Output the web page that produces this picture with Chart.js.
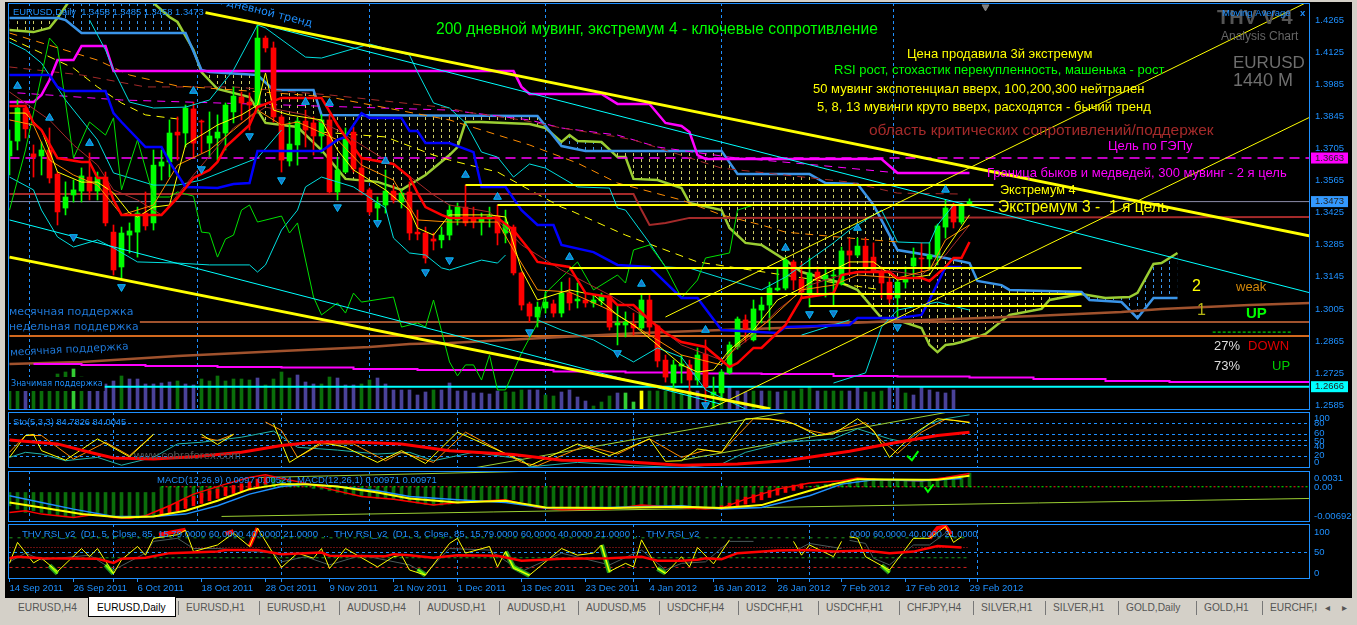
<!DOCTYPE html>
<html>
<head>
<meta charset="utf-8">
<title>EURUSD,Daily</title>
<script src="https://cdn.jsdelivr.net/npm/chart.js@4/dist/chart.umd.js"></script>
<style>
  html, body { margin: 0; padding: 0; width: 1357px; height: 625px; overflow: hidden; background: #d4d0c8; }
  #win { position: absolute; left: 5px; top: 2px; width: 1347px; height: 596px; background: #000; }
  canvas.pane { position: absolute; left: 0; }
  #tabs span { position: absolute; top: 602px; font: 10.2px "Liberation Sans", sans-serif; color: #555; white-space: nowrap; }
  #tabs i { position: absolute; top: 601px; width: 1px; height: 14px; background: #777; }
  #tabs b { position: absolute; left: 88px; top: 597px; width: 88px; height: 20px; background: #fff; border: 1px solid #000; border-top: 0; box-sizing: border-box; }
</style>
</head>
<body>
<div id="win"></div>
<div id="tabs"></div>
<script>
// === Candles (bars 0..120, one per trading day) ===
const opens = [1.3672,1.3737,1.3881,1.3681,1.3672,1.3698,1.3593,1.3445,1.3502,1.3519,1.3580,1.3519,1.3580,1.3340,1.3188,1.3327,1.3340,1.3423,1.3380,1.3628,1.3646,1.3776,1.3772,1.3877,1.3824,1.3728,1.3750,1.3772,1.3864,1.3929,1.3907,1.3894,1.4186,1.4143,1.3842,1.3650,1.3720,1.3824,1.3816,1.3759,1.3829,1.3515,1.3602,1.3776,1.3620,1.3524,1.3445,1.3458,1.3519,1.3471,1.3515,1.3340,1.3336,1.3310,1.3306,1.3327,1.3393,1.3449,1.3401,1.3384,1.3397,1.3410,1.3336,1.3362,1.3162,1.3027,1.2970,1.3009,1.3027,1.2987,1.3074,1.3040,1.3044,1.3031,1.3040,1.3061,1.2935,1.2935,1.2939,1.2922,1.3044,1.2931,1.2782,1.2682,1.2756,1.2761,1.2695,1.2808,1.2630,1.2639,1.2726,1.2839,1.2957,1.2870,1.3000,1.3022,1.3088,1.3096,1.3210,1.3135,1.3074,1.3166,1.3135,1.3149,1.3114,1.3258,1.3240,1.3279,1.3231,1.3166,1.3122,1.3053,1.3122,1.3192,1.3227,1.3223,1.3240,1.3362,1.3458,1.3384,1.3458];
const highs = [1.3785,1.3916,1.3894,1.3720,1.3733,1.3794,1.3602,1.3559,1.3567,1.3620,1.3685,1.3602,1.3602,1.3371,1.3362,1.3380,1.3449,1.3515,1.3698,1.3698,1.3829,1.3842,1.3894,1.3907,1.3829,1.3864,1.3851,1.3903,1.3973,1.3951,1.3947,1.4243,1.4195,1.4169,1.3851,1.3820,1.3838,1.3872,1.3842,1.3851,1.3851,1.3667,1.3794,1.3798,1.3667,1.3532,1.3493,1.3611,1.3545,1.3524,1.3559,1.3436,1.3362,1.3336,1.3362,1.3458,1.3467,1.3545,1.3449,1.3423,1.3449,1.3458,1.3436,1.3371,1.3166,1.3035,1.3035,1.3079,1.3044,1.3122,1.3140,1.3118,1.3074,1.3066,1.3074,1.3066,1.3022,1.2992,1.2987,1.3066,1.3066,1.2935,1.2804,1.2782,1.2804,1.2782,1.2835,1.2870,1.2708,1.2739,1.2861,1.2970,1.2979,1.3044,1.3057,1.3122,1.3184,1.3231,1.3218,1.3205,1.3227,1.3188,1.3188,1.3184,1.3275,1.3314,1.3314,1.3314,1.3293,1.3188,1.3144,1.3140,1.3188,1.3271,1.3293,1.3293,1.3375,1.3480,1.3467,1.3467,1.3485];
const lows = [1.3589,1.3698,1.3750,1.3580,1.3589,1.3554,1.3371,1.3415,1.3471,1.3471,1.3480,1.3480,1.3367,1.3153,1.3140,1.3249,1.3231,1.3349,1.3349,1.3567,1.3580,1.3654,1.3711,1.3667,1.3685,1.3667,1.3654,1.3698,1.3816,1.3829,1.3785,1.3859,1.4125,1.3820,1.3602,1.3628,1.3632,1.3711,1.3676,1.3685,1.3510,1.3480,1.3598,1.3602,1.3502,1.3415,1.3384,1.3423,1.3467,1.3445,1.3306,1.3306,1.3205,1.3262,1.3271,1.3306,1.3371,1.3367,1.3358,1.3327,1.3362,1.3284,1.3293,1.3153,1.3000,1.2948,1.2926,1.2987,1.2970,1.2970,1.3000,1.3009,1.3013,1.3013,1.3022,1.2913,1.2848,1.2883,1.2891,1.2913,1.2891,1.2752,1.2686,1.2660,1.2682,1.2643,1.2673,1.2573,1.2577,1.2621,1.2721,1.2830,1.2861,1.2865,1.2944,1.2913,1.3083,1.3088,1.3088,1.3053,1.3013,1.3074,1.3057,1.3018,1.3109,1.3162,1.3231,1.3175,1.3162,1.3053,1.3031,1.2970,1.3096,1.3144,1.3166,1.3175,1.3197,1.3314,1.3358,1.3375,1.3458];
const closes = [1.3737,1.3881,1.3790,1.3667,1.3698,1.3576,1.3428,1.3493,1.3524,1.3585,1.3519,1.3580,1.3380,1.3175,1.3336,1.3345,1.3423,1.3367,1.3632,1.3646,1.3772,1.3763,1.3881,1.3728,1.3820,1.3759,1.3776,1.3894,1.3933,1.3903,1.3894,1.4186,1.4143,1.3842,1.3654,1.3724,1.3824,1.3785,1.3759,1.3829,1.3515,1.3611,1.3746,1.3615,1.3515,1.3428,1.3467,1.3519,1.3480,1.3510,1.3336,1.3332,1.3227,1.3301,1.3327,1.3436,1.3449,1.3380,1.3384,1.3401,1.3410,1.3336,1.3384,1.3162,1.3022,1.2974,1.3013,1.3035,1.2987,1.3074,1.3031,1.3048,1.3031,1.3044,1.3061,1.2926,1.2944,1.2948,1.2922,1.3044,1.2926,1.2778,1.2708,1.2761,1.2765,1.2695,1.2804,1.2665,1.2643,1.2730,1.2848,1.2961,1.2918,1.3005,1.3022,1.3096,1.3096,1.3218,1.3131,1.3079,1.3162,1.3135,1.3153,1.3153,1.3258,1.3240,1.3279,1.3188,1.3166,1.3118,1.3048,1.3122,1.3140,1.3227,1.3223,1.3240,1.3367,1.3445,1.3384,1.3458,1.3473];

// === Volume (tick count in the lower part of the price pane) ===
const volumes = [26,25,27,26,26,27,36,38,41,33,26,26,26,29,34,31,31,26,26,27,28,29,26,25,31,29,34,29,31,31,30,32,25,31,38,32,35,28,26,26,33,32,25,25,26,30,32,26,20,20,20,15,18,20,20,27,19,19,17,17,16,19,18,18,20,20,20,15,14,18,20,13,9,4,8,14,17,17,8,19,19,19,19,19,19,19,19,7,9,19,23,19,18,19,19,19,18,19,19,21,23,19,19,19,19,19,23,18,18,19,23,23,17,15,23,20,18,17,20,20,3];
const volumeState = "ggpgggggbgppppgpppppp gppgggggggpggggpppggpppggpppppppgppppppppgggppggppppgggpbbygggggbpgggpppgpgpggggpgggppgggppgpppppp".replace(/ /g, "");

// === Ichimoku and moving averages, [bar, price] ===
const spanB = [[0,1.4274],[6,1.4274],[7,1.4265],[9,1.4208],[22,1.4208],[24,1.4047],[25,1.4038],[31,1.4025],[33,1.3960],[38,1.3960],[39,1.3851],[66,1.3846],[69,1.3715],[72,1.3694],[89,1.3694],[91,1.3593],[100,1.3593],[102,1.3554],[106,1.3550],[108,1.3458],[111,1.3262],[117,1.3227],[120,1.3205],[121,1.3127],[124,1.3109],[125,1.3088],[134,1.3079],[135,1.3044],[139,1.3035],[141,1.2965],[143,1.3053],[146,1.3053]];
const spanA = [[0,1.4221],[3,1.4212],[5,1.4230],[6,1.4274],[8,1.4374],[16,1.4374],[18,1.4339],[20,1.4278],[21,1.4256],[23,1.4134],[24,1.4038],[26,1.3964],[30,1.3929],[32,1.3816],[36,1.3798],[39,1.3698],[42,1.3572],[46,1.3559],[49,1.3524],[52,1.3589],[55,1.3676],[56,1.3711],[57,1.3820],[59,1.3820],[65,1.3811],[67,1.3794],[69,1.3733],[70,1.3763],[71,1.3737],[74,1.3733],[76,1.3667],[77,1.3667],[78,1.3572],[81,1.3567],[84,1.3532],[85,1.3467],[89,1.3436],[90,1.3358],[92,1.3293],[94,1.3284],[97,1.3218],[99,1.3166],[104,1.3118],[106,1.3088],[109,1.2965],[111,1.2957],[114,1.2922],[115,1.2848],[116,1.2817],[117,1.2848],[118,1.2852],[119,1.2861],[121,1.2883],[122,1.2896],[125,1.2979],[129,1.3005],[130,1.3044],[134,1.3070],[137,1.3053],[140,1.3057],[141,1.3075],[143,1.3201],[144,1.3205],[146,1.3249]];
const kijun = [[0,1.4025],[5,1.4025],[6,1.3973],[7,1.3955],[12,1.3955],[13,1.3859],[14,1.3820],[17,1.3711],[19,1.3711],[20,1.3646],[22,1.3537],[26,1.3532],[28,1.3550],[30,1.3554],[31,1.3694],[39,1.3694],[41,1.3742],[42,1.3755],[44,1.3859],[45,1.3838],[49,1.3838],[50,1.3781],[51,1.3781],[52,1.3728],[55,1.3728],[58,1.3689],[59,1.3537],[62,1.3537],[64,1.3436],[66,1.3371],[68,1.3371],[69,1.3284],[73,1.3253],[76,1.3197],[80,1.3188],[84,1.3053],[86,1.3053],[89,1.2913],[96,1.2900],[97,1.2926],[105,1.2935],[106,1.2965],[111,1.2965],[114,1.2979],[115,1.3044],[117,1.3188],[119,1.3188]];
const tenkan = [[0,1.3890],[2,1.3890],[3,1.3816],[4,1.3785],[6,1.3663],[9,1.3646],[10,1.3646],[11,1.3576],[12,1.3576],[13,1.3480],[14,1.3415],[19,1.3415],[21,1.3489],[23,1.3576],[25,1.3611],[26,1.3646],[27,1.3711],[30,1.3807],[31,1.3885],[34,1.3925],[39,1.3925],[41,1.3807],[42,1.3755],[43,1.3711],[44,1.3663],[48,1.3637],[50,1.3580],[51,1.3511],[52,1.3449],[54,1.3415],[55,1.3402],[61,1.3402],[63,1.3349],[65,1.3262],[66,1.3210],[70,1.3188],[72,1.3074],[75,1.3057],[76,1.3022],[78,1.3022],[80,1.2957],[82,1.2900],[84,1.2861],[87,1.2839],[90,1.2752],[91,1.2769],[93,1.2835],[94,1.2835],[97,1.2935],[99,1.3053],[103,1.3074],[104,1.3153],[106,1.3166],[110,1.3166],[111,1.3140],[114,1.3140],[115,1.3127],[117,1.3188],[118,1.3227],[119,1.3227],[120,1.3297]];
const maHigh = [[0,1.3907],[3,1.3907],[4,1.3938],[5,1.4003],[6,1.4090],[8,1.4090],[9,1.4151],[12,1.4151],[13,1.4042],[63,1.4042],[64,1.3973],[65,1.3942],[74,1.3942],[76,1.3899],[80,1.3899],[82,1.3816],[84,1.3803],[85,1.3776],[86,1.3676],[87,1.3659],[109,1.3659],[111,1.3598],[120,1.3598]];
const ma200 = [[0,1.3506],[78,1.3506],[79,1.3436],[80,1.3371],[82,1.3380],[85,1.3402],[162.6,1.3406]];
const ma300 = [[0,1.2765],[9,1.2774],[21,1.2800],[34,1.2822],[45,1.2839],[50,1.2852],[55,1.2856],[69,1.2883],[79,1.2900],[89,1.2913],[100,1.2926],[105,1.2944],[111,1.2952],[118,1.2961],[128,1.2974],[139,1.2992],[144,1.3005],[155,1.3022],[162.6,1.3031]];
const maLow = [[3,1.2765],[9,1.2761],[17,1.2756],[26,1.2752],[34,1.2750],[43,1.2743],[51,1.2739],[68,1.2732],[77,1.2728],[85,1.2723],[94,1.2721],[103,1.2713],[111,1.2710],[120,1.2706],[128,1.2700],[137,1.2691],[145,1.2687],[162.6,1.2687]];
const bandUpper = [[10,1.4265],[12,1.4134],[13,1.4047],[15,1.3907],[18,1.3881],[22,1.3885],[25,1.3916],[28,1.4047],[31,1.4243],[32,1.4230],[37,1.4103],[39,1.4099],[45,1.4160],[50,1.4112],[51,1.4038],[53,1.3903],[55,1.3881],[57,1.3816],[59,1.3689],[61,1.3667],[63,1.3580],[65,1.3637],[67,1.3619],[71,1.3537],[75,1.3532],[76,1.3445],[77,1.3436],[80,1.3293],[82,1.3188],[85,1.3183],[89,1.3140],[94,1.3088],[97,1.3144],[103,1.3293],[105,1.3349],[109,1.3436],[111,1.3297],[114,1.3293],[115,1.3293],[116,1.3371],[118,1.3458]];
const bandMiddle = [[0,1.4169],[2,1.4134],[4,1.4077],[7,1.3916],[11,1.3742],[13,1.3598],[18,1.3545],[21,1.3545],[24,1.3567],[31,1.3663],[34,1.3785]];
const bandLower = [[0,1.3580],[3,1.3524],[4,1.3436],[6,1.3319],[8,1.3275],[11,1.3306],[13,1.3271],[16,1.3210],[21,1.3205],[25,1.3197],[30,1.3197],[31,1.3166],[32,1.3197],[34,1.3349],[36,1.3436],[37,1.3537],[39,1.3580],[43,1.3537],[47,1.3445],[48,1.3314],[50,1.3249],[52,1.3240],[54,1.3184],[55,1.3175],[59,1.3218],[61,1.3205],[62,1.3240],[63,null],[66,1.2957],[69,1.2913],[73,1.2870],[78,1.2774],[81,1.2835],[84,1.2795],[87,1.2652],[92,1.2569],[93,null],[99,1.2891],[103,1.2935],[105,1.2957],[106,null],[103,1.2682],[107,1.2726],[109,1.2926],[111,1.3000],[116,1.3035],[120,1.3000]];
const oscGreen = [[0,1.3436],[2,1.3698],[5,1.4186],[6,1.4147],[8,1.3663],[10,1.3820],[12,1.3763],[13,1.3838],[14,1.3524],[16,1.3742],[18,1.3493],[20,1.3493],[21,1.3515],[23,1.3497],[24,1.3340],[25,1.3336],[26,1.3231],[27,1.3310],[28,1.3327],[29,1.3436],[30,1.3458],[31,1.3384],[34,1.3410],[35,1.3336],[36,1.3380],[38,1.3057],[39,1.2979],[41,1.3031],[42,1.2987],[43,1.3074],[44,1.3035],[48,1.3057],[49,1.2926],[51,1.2944],[52,1.2926],[53,1.3044],[55,1.2774],[56,1.2713],[57,1.2761],[58,1.2761],[59,1.2695],[60,1.2804],[61,1.2652],[62,1.2652],[64,1.2813],[66,1.2944],[67,1.3074],[71,1.3210],[73,1.3088],[76,1.3153],[77,1.3118],[78,1.3262],[80,1.3284],[82,1.3188],[84,1.3053],[86,1.3131],[87,1.3227],[90,1.3249],[91,1.3436],[93,1.3458]];
const ema5 = [[0,1.3859],[2,1.3859],[4,1.3785],[6,1.3602],[9,1.3558],[11,1.3558],[13,1.3511],[15,1.3423],[16,1.3406],[18,1.3449],[20,1.3458],[22,1.3720],[26,1.3807],[29,1.3851],[31,1.3894],[32,1.4034],[33,1.3872],[35,1.3851],[39,1.3829],[41,1.3698],[43,1.3611],[47,1.3524],[50,1.3436],[51,1.3358],[53,1.3327],[55,1.3415],[60,1.3415],[62,1.3406],[64,1.3175],[66,1.3044],[70,1.3088],[73,1.3066],[76,1.2979],[78,1.2935],[81,1.2848],[84,1.2761],[86,1.2730],[88,1.2739],[90,1.2826],[93,1.2913],[96,1.3044],[99,1.3096],[101,1.3140],[105,1.3210],[108,1.3210],[111,1.3131],[115,1.3153],[117,1.3262],[120,1.3415]];
const ema8 = [[0,1.3829],[3,1.3807],[5,1.3654],[8,1.3589],[11,1.3545],[14,1.3415],[18,1.3458],[21,1.3632],[25,1.3698],[28,1.3785],[31,1.3872],[34,1.3807],[36,1.3820],[41,1.3742],[44,1.3632],[48,1.3567],[51,1.3393],[55,1.3384],[61,1.3384],[63,1.3262],[66,1.3088],[70,1.3079],[75,1.3000],[79,1.2913],[84,1.2804],[89,1.2761],[91,1.2848],[95,1.2957],[99,1.3088],[103,1.3109],[106,1.3153],[111,1.3140],[115,1.3175],[117,1.3306],[120,1.3371]];
const ema13 = [[0,1.3951],[5,1.3829],[8,1.3720],[11,1.3632],[13,1.3524],[16,1.3480],[19,1.3415],[23,1.3589],[28,1.3794],[32,1.3885],[37,1.3851],[41,1.3785],[45,1.3698],[49,1.3611],[53,1.3502],[55,1.3458],[60,1.3428],[64,1.3284],[69,1.3175],[75,1.3066],[80,1.2957],[84,1.2848],[89,1.2782],[93,1.2891],[96,1.3000],[100,1.3109],[104,1.3153],[109,1.3175],[114,1.3153],[117,1.3240],[120,1.3371]];
const dashOrange = [[0,1.4208],[11,1.4090],[15,1.4025],[21,1.3977],[28,1.3960],[40,1.3929],[55,1.3829],[65,1.3720],[71,1.3641],[76,1.3554],[84,1.3480],[89,1.3415],[94,1.3371],[97,1.3340],[101,1.3327],[105,1.3314],[111,1.3297]];
const dashBrown = [[0,1.4060],[9,1.4025],[17,1.3973],[28,1.3973],[40,1.3938],[55,1.3881],[57,1.3864],[64,1.3829],[69,1.3794],[76,1.3755],[78,1.3742],[89,1.3619],[105,1.3558],[111,1.3510],[119,1.3506]];
const dashMagenta = [[1,1.3947],[14,1.3916],[55,1.3872],[65,1.3829],[69,1.3794],[76,1.3763],[81,1.3711],[90,1.3667],[101,1.3632],[111,1.3598]];
const dashYellow = [[0,1.4186],[8,1.4055],[11,1.3973],[14,1.3903],[17,1.3851],[22,1.3829],[23,null],[39,1.3776],[47,1.3755],[53,1.3676],[55,1.3654],[61,1.3602],[65,1.3524],[69,1.3449],[70,1.3436],[77,1.3327],[86,1.3210],[109,1.3088]];

// === Trend lines and levels ===
const trendTop = [[24.5,1.4297],[162.6,1.3323]];
const trendBottom = [[0,1.3231],[95.1,1.2569]];
const channelTop = [[32.25,1.4239],[162.6,1.3075]];
const channelBottom = [[0,1.3393],[88.9,1.2590]];
const riseOne = [[82,1.2970],[162,1.4339]];
const riseTwo = [[87.6,1.2569],[162.6,1.3842]];
const extremeLevels = [[57,123,1.3545],[61,123,1.3458],[70,134,1.3184],[75,134,1.3070],[100,134,1.3018]];
const weeklySupport = [[16.3,1.2948],[162.6,1.2948]];
const monthlySupport = [[0,1.2887],[162.6,1.2887]];
const probabilityRule = [[150.4,1.2904],[160.3,1.2904]];
const currentPrice = 1.3473;
const gapTarget = 1.3663;
const keySupport = 1.2666;
const arrowsUp = [[1,1.3977],[5,1.3838],[10,1.3728],[23,1.3955],[37,1.3907],[40,1.3903],[47,1.3650],[57,1.3589],[61,1.3493],[70,1.3231],[79,1.3114],[87,1.2913],[97,1.3271],[106,1.3358],[117,1.3524]];
const arrowsDown = [[8,1.3319],[14,1.3101],[24,1.3615],[30,1.3759],[34,1.3567],[41,1.3449],[46,1.3380],[52,1.3166],[55,1.3218],[65,1.2904],[76,1.2813],[87,1.2586],[100,1.2983],[103,1.2987],[111,1.2926]];
const shiftMark = [[122,1.4322]];
const priceTicks = [1.4265,1.4125,1.3985,1.3845,1.3705,1.3565,1.3425,1.3285,1.3145,1.3005,1.2865,1.2725,1.2585];

// === Stochastic ===
const stoMain = [[0,19],[2,58],[3,60],[4,31],[7,14],[11,52],[15,20],[18,60],[19,null],[24,60],[26,42],[28,60],[29,null],[33,79],[35,10],[39,46],[42,37],[46,10],[49,31],[52,8],[56,64],[64,13],[65,4],[71,43],[75,22],[80,52],[82,12],[84,13],[86,34],[89,28],[92,88],[95,88],[98,79],[101,58],[103,61],[106,88],[108,67],[110,19],[113,61],[116,88],[118,85],[120,81]];
const stoSignal = [[0,28],[2,58],[4,58],[8,16],[12,46],[15,22],[18,60],[19,null],[24,55],[26,49],[28,60],[29,null],[32,82],[34,67],[36,19],[39,43],[43,43],[47,13],[49,28],[53,10],[57,64],[64,10],[66,4],[72,40],[76,25],[80,52],[84,19],[87,32],[89,28],[93,88],[97,85],[100,67],[102,61],[107,81],[109,49],[111,26],[114,64],[117,87],[120,82]];
const stoSlow = [[0,19],[2,28],[4,25],[7,13],[11,19],[14,5],[18,19],[21,43],[24,46],[29,55],[33,66],[36,37],[41,32],[46,25],[50,28],[53,13],[58,28],[64,16],[65,2],[71,10],[78,4],[84,1],[89,7],[92,28],[97,46],[103,52],[106,70],[110,52],[112,46],[115,79],[117,88],[120,95]];
const stoAverage = [[0,50],[6,43],[10,28],[13,18],[18,16],[23,20],[29,28],[34,40],[38,46],[42,47],[49,43],[55,31],[63,24],[69,14],[75,13],[84,5],[91,7],[97,13],[100,19],[105,30],[111,46],[116,58],[120,64]];
const stoTrendOne = [[58,0],[97,99]];
const stoTrendTwo = [[84,14],[117,99]];
const stoCheck = [[112.2,22],[112.8,14],[113.6,30]];
const stoLevels = [80,60,50,40,20];

// === MACD ===
const macdHist = [-.00373,-.00439,-.00505,-.00472,-.00505,-.00537,-.00570,-.00583,-.00596,-.00583,-.00557,-.00544,-.00557,-.00583,-.00603,-.00616,-.00616,-.00603,-.00583,-.00537,-.00472,-.00439,-.00373,-.00275,-.00210,-.00144,-.00112,-.00079,-.00046,-.00033,-.00013,.00006,.00118,.00183,.00137,.00118,.00072,.00006,-.00033,-.00046,-.00079,-.00112,-.00144,-.00164,-.00190,-.00210,-.00229,-.00229,-.00243,-.00256,-.00295,-.00321,-.00347,-.00360,-.00360,-.00341,-.00321,-.00308,-.00295,-.00282,-.00275,-.00262,-.00256,-.00256,-.00295,-.00341,-.00387,-.00413,-.00426,-.00439,-.00446,-.00446,-.00439,-.00432,-.00426,-.00413,-.00400,-.00387,-.00373,-.00360,-.00360,-.00373,-.00393,-.00406,-.00419,-.00432,-.00439,-.00426,-.00413,-.00406,-.00341,-.00308,-.00256,-.00210,-.00164,-.00125,-.00085,-.00046,-.00033,-.00013,.00006,.00033,.00052,.00072,.00085,.00118,.00137,.00164,.00164,.00150,.00137,.00124,.00118,.00111,.00124,.00137,.00164,.00183,.00203,.00229,.00268];
const macdRising = [[19,-.00557,-.00439],[20,-.00518,-.00373],[21,-.00472,-.00308],[22,-.00426,-.00243],[23,-.00373,-.00190],[24,-.00328,-.00125],[25,-.00275,-.00079],[26,-.00229,-.00046],[27,-.00177,-.00007],[28,-.00131,.00026],[29,-.00098,.00059],[30,-.00066,.00098],[31,-.00013,.00150],[32,.00052,.00196],[89,-.00439,-.00373],[90,-.00426,-.00321],[91,-.00387,-.00256],[92,-.00341,-.00203],[93,-.00308,-.00157],[94,-.00256,-.00112],[95,-.00210,-.00072],[96,-.00164,-.00033],[97,-.00112,.00000],[98,-.00072,.00033],[99,-.00033,.00059]];
const macdRed = [[0,-.00505],[2,-.00472],[4,-.00537],[8,-.00603],[11,-.00537],[13,-.00603],[15,-.00616],[17,-.00570],[20,-.00373],[23,-.00144],[27,.00052],[30,.00183],[32,.00236],[34,.00164],[37,.00072],[40,-.00046],[44,-.00190],[48,-.00243],[53,-.00360],[56,-.00308],[62,-.00256],[66,-.00406],[69,-.00452],[75,-.00439],[79,-.00360],[84,-.00406],[87,-.00439],[89,-.00419],[92,-.00243],[96,-.00046],[100,.00072],[104,.00118],[106,.00170],[109,.00137],[114,.00118],[117,.00183],[120,.00262]];
const macdBlue = [[0,-.00177],[4,-.00308],[8,-.00439],[13,-.00583],[18,-.00583],[22,-.00537],[26,-.00374],[30,-.00144],[34,.00006],[37,.00052],[41,.00006],[46,-.00079],[50,-.00190],[56,-.00256],[62,-.00308],[67,-.00419],[75,-.00406],[84,-.00373],[89,-.00439],[94,-.00406],[100,-.00177],[104,.00052],[108,.00137],[114,.00118],[119,.00164]];
const macdYellow = [[0,-.00308],[4,-.00406],[9,-.00537],[14,-.00603],[18,-.00583],[22,-.00472],[26,-.00275],[30,-.00046],[34,.00052],[37,.00052],[41,.00006],[46,-.00112],[50,-.00229],[56,-.00308],[62,-.00275],[67,-.00406],[75,-.00419],[84,-.00393],[89,-.00419],[94,-.00360],[100,-.00079],[103,.00052],[106,.00150],[114,.00137],[116,.00137],[120,.00216]];
const macdTrendOne = [[26.5,-.00583],[162.7,-.00229]];
const macdTrendTwo = [[31.4,.00183],[71,.00327]];
const macdCheck = [[114.4,-.00010],[114.8,-.00100],[115.5,.00050]];
const macdZero = [[19,0],[162.6,0]];

// === THV RSI ===
const rsiAverage = [[0,39],[1,42],[4,39],[11,38],[13,30],[14,38],[17,40],[20,49],[26,52],[27,55],[31,55],[34,47],[39,50],[40,44],[47,43],[48,47],[50,45],[53,40],[56,45],[61,44],[64,34],[69,38],[75,39],[79,42],[81,34],[84,34],[86,36],[87,39],[89,37],[91,49],[96,54],[100,55],[103,52],[107,54],[110,49],[113,52],[116,63],[119,60]];
const rsiMain = [[0,29],[1,70],[3,30],[4,39],[6,13],[9,58],[10,42],[11,58],[13,9],[14,36],[16,62],[17,45],[18,78],[21,85],[22,94],[23,52],[26,65],[28,88],[30,62],[31,98],[33,47],[34,21],[36,49],[38,39],[39,58],[40,19],[42,58],[46,22],[48,42],[49,45],[50,16],[52,6],[55,68],[56,78],[57,49],[60,62],[61,22],[62,52],[63,19],[65,6],[69,58],[71,45],[73,49],[74,65],[75,13],[77,29],[78,22],[79,75],[81,19],[82,9],[84,42],[85,22],[86,60],[88,28],[90,75],[91,null],[98,72],[99,45],[100,65],[103,42],[104,72],[104.5,null],[105,81],[106,78],[107,42],[110,16],[113,78],[115,78],[117,101],[118,70],[119,81]];
const rsiSlow = [[0,32],[2,49],[4,36],[10,45],[13,16],[17,49],[18,72],[21,78],[23,58],[26,58],[33,49],[34,32],[37,42],[40,26],[44,45],[50,26],[52,9],[55,58],[60,55],[64,13],[69,49],[75,26],[79,55],[82,16],[84,29],[87,32],[90,72],[93,72],[94,null],[98,52],[100,68],[104,58],[104.5,null],[105,74],[107,68],[108,39],[110,26],[113,65],[115,65],[117,88],[118,81]];
const rsiOversold = [[5,25],[6,9],[6.5,null],[12,26],[13,9],[13.5,null],[51,17],[52,6],[52.5,null],[62,52],[63,22],[65,5],[65.5,null],[74,65],[75,11],[75.5,null],[81,19],[82,10],[82.5,null],[109,25],[110,11]];
const rsiOverbought = [[18.7,85],[22,95],[22.5,null],[27,87],[28,92],[28.5,null],[30,62],[31,98],[31.5,null],[115,78],[116,98],[117,101],[117.7,86]];
const rsiLevels = [79,60,40,21];
const rsiMid = [50];

// === Time axis and tabs ===
const dateLabels = ["14 Sep 2011","26 Sep 2011","6 Oct 2011","18 Oct 2011","28 Oct 2011","9 Nov 2011","21 Nov 2011","1 Dec 2011","13 Dec 2011","23 Dec 2011","4 Jan 2012","16 Jan 2012","26 Jan 2012","7 Feb 2012","17 Feb 2012","29 Feb 2012"];
const dateEvery = 8;
const monthBreaks = [13,34,56,78,100,121];
const tabNames = ["EURUSD,H4","EURUSD,Daily","EURUSD,H1","EURUSD,H1","AUDUSD,H4","AUDUSD,H1","AUDUSD,H1","AUDUSD,M5","USDCHF,H4","USDCHF,H1","USDCHF,H1","CHFJPY,H4","SILVER,H1","SILVER,H1","GOLD,Daily","GOLD,H1","EURCHF,I","◂","▸"];
const tabLefts = [18,97,186,267,347,427,507,586,667,746,826,907,981,1053,1126,1204,1270,1325,1342];

// ---------------------------------------------------------------------
const BLUE = "#1e90ff";
const ARIAL = '"Liberation Sans", sans-serif';
const WIDE = '"DejaVu Sans", sans-serif';
const xMin = -0.1875, xMax = 162.5625;

const pts = pairs => pairs.map(([x, y]) => ({ x, y }));
const line = (pairs, color, width, extra) => Object.assign(
  { type: "line", data: pts(pairs), borderColor: color, borderWidth: width, pointRadius: 0, tension: 0, fill: false }, extra);
const flat = (a, b, v) => [[a, v], [b, v]];

function hatch(color) {
  const c = document.createElement("canvas");
  c.width = 8; c.height = 6;
  const g = c.getContext("2d");
  g.fillStyle = color;
  g.fillRect(1, 0, 1, 3);
  return g.createPattern(c, "repeat");
}

function notesPlugin(top, notes, tags) {
  return {
    id: "notes",
    afterDatasetsDraw(chart) {
      const g = chart.ctx, a = chart.chartArea;
      g.save();
      g.strokeStyle = BLUE;
      g.lineWidth = 1;
      g.strokeRect(a.left + 0.5, a.top + 0.5, a.right - a.left - 1, a.bottom - a.top - 1);
      g.textBaseline = "middle";
      (tags || []).forEach(t => {
        const y = chart.scales.y.getPixelForValue(t.value);
        g.fillStyle = t.bg;
        g.fillRect(a.right + 1, y - 5.5, 37, 11);
        g.fillStyle = "#222";
        g.font = "9.5px " + ARIAL;
        g.textAlign = "left";
        g.fillText(t.value.toFixed(4), a.right + 5, y);
      });
      notes.forEach(n => {
        g.save();
        g.font = n.f;
        g.textAlign = n.align || "left";
        g.translate(n.x, n.y - top);
        if (n.rot) g.rotate(n.rot * Math.PI / 180);
        if (n.bg) {
          g.fillStyle = n.bg;
          g.fillRect(-2, -7, g.measureText(n.t).width + 4, 14);
        }
        g.fillStyle = n.c;
        g.fillText(n.t, 0, 0);
        g.restore();
      });
      g.restore();
    }
  };
}

function pane(top, height, y, datasets, notes, tags, timeAxis, extraScales) {
  const canvas = document.createElement("canvas");
  canvas.className = "pane";
  canvas.width = 1357;
  canvas.height = height;
  canvas.style.top = top + "px";
  document.body.appendChild(canvas);

  const dateBars = dateLabels.map((_, i) => i * dateEvery);
  const tickBars = timeAxis ? [...new Set(dateBars.concat(monthBreaks))].sort((a, b) => a - b) : monthBreaks;

  return new Chart(canvas, {
    type: "line",
    data: { datasets },
    plugins: [notesPlugin(top, notes, tags)],
    options: {
      responsive: false,
      animation: false,
      devicePixelRatio: 1,
      layout: { autoPadding: false, padding: { left: 8, right: 0, top: 0, bottom: 0 } },
      events: [],
      plugins: { legend: { display: false }, tooltip: { enabled: false }, title: { display: false } },
      scales: Object.assign({
        x: {
          type: "linear", min: xMin, max: xMax, offset: false,
          afterBuildTicks: s => { s.ticks = tickBars.map(v => ({ value: v })); },
          afterFit: s => { s.height = timeAxis ? 18 : 0; s.paddingLeft = 0; s.paddingRight = 0; },
          border: { display: false, dash: [3, 3] },
          grid: {
            drawTicks: !!timeAxis, tickLength: 3, tickColor: BLUE,
            color: c => monthBreaks.includes(c.tick && c.tick.value) ? BLUE : "rgba(0,0,0,0)"
          },
          ticks: {
            display: !!timeAxis, autoSkip: false, maxRotation: 0, minRotation: 0, align: "start", padding: 1,
            color: BLUE, font: { family: ARIAL, size: 9.6 },
            callback: v => dateBars.includes(v) ? dateLabels[v / dateEvery] : ""
          }
        },
        y: {
          position: "right", min: y.min, max: y.max,
          afterBuildTicks: s => { s.ticks = y.ticks.map(v => ({ value: v })); },
          afterFit: s => { s.width = 47; s.paddingTop = 0; s.paddingBottom = 0; },
          border: { display: false, dash: y.gridLines ? [3, 3] : undefined },
          grid: { display: !!y.gridLines, drawTicks: !y.gridLines, color: BLUE, tickLength: 3, tickColor: BLUE },
          ticks: {
            display: !y.gridLines, autoSkip: false, padding: 2, color: BLUE,
            font: { family: ARIAL, size: 9.5 },
            callback: v => v.toFixed(4)
          }
        }
      }, extraScales || {})
    }
  });
}

// === Price pane ===
const candleColor = i => closes[i] >= opens[i] ? "#00ff00" : "#ff0000";
const volColors = { g: "#0a6e0a", p: "#4a4299", b: "#33cc33", y: "#ffff00" };
const dashed = { borderDash: [8, 6] };

const priceDatasets = [
  line(shiftMark, "#808080", 1, { showLine: false, pointStyle: "triangle", pointRotation: 180, pointRadius: 4, pointBackgroundColor: "#808080" }),
  line(arrowsUp, "#00bfff", 1, { showLine: false, pointStyle: "triangle", pointRadius: 4.5, pointBackgroundColor: "#1878c8", pointBorderColor: "#00bfff", pointBorderWidth: 1 }),
  line(arrowsDown, "#00bfff", 1, { showLine: false, pointStyle: "triangle", pointRotation: 180, pointRadius: 4.5, pointBackgroundColor: "#1878c8", pointBorderColor: "#00bfff", pointBorderWidth: 1 }),
  ...extremeLevels.map(([a, b, v]) => line(flat(a, b, v), "#ffff00", 2)),
  line(trendTop, "#ffff00", 3),
  line(trendBottom, "#ffff00", 3),
  line(riseOne, "#ffff00", 1),
  line(riseTwo, "#ffff00", 1),
  line(channelTop, "#00ffff", 1),
  line(channelBottom, "#00ffff", 1),
  line(probabilityRule, "#00ff00", 1, { borderDash: [3, 2] }),
  line(tenkan, "#ff0000", 2.5),
  line(kijun, "#0000ff", 2.5),
  line(ema5, "#ffff00", 1),
  line(ema8, "#ff8c00", 1),
  line(ema13, "#a52a2a", 1),
  line(oscGreen, "#00e000", 1),
  line(bandUpper, "#00dede", 1),
  line(bandMiddle, "#00dede", 1),
  line(bandLower, "#00dede", 1),
  {
    type: "bar", grouped: false, barThickness: 5, minBarLength: 1,
    data: opens.map((o, i) => ({ x: i, y: [o, closes[i]] })),
    backgroundColor: opens.map((_, i) => candleColor(i))
  },
  {
    type: "bar", grouped: false, barThickness: 1,
    data: lows.map((l, i) => ({ x: i, y: [l, highs[i]] })),
    backgroundColor: opens.map((_, i) => candleColor(i))
  },
  line(maHigh, "#ff00ff", 2.5),
  line(maLow, "#ff00ff", 2, { stepped: true }),
  line(flat(0, 162.6, keySupport), "#00ffff", 2),
  line(ma300, "#a0522d", 2.5),
  line(weeklySupport, "#a0522d", 2),
  line(monthlySupport, "#d2691e", 2),
  line(ma200, "#a52a2a", 2),
  line(dashOrange, "#ff8c00", 1, dashed),
  line(dashBrown, "#a52a2a", 1, dashed),
  line(dashMagenta, "#ff00ff", 1, dashed),
  line(dashYellow, "#ffff00", 1, dashed),
  line(flat(0, 162.6, gapTarget), "#ff00ff", 1.5, { borderDash: [10, 6] }),
  line(flat(0, 162.6, currentPrice), "#8c8ca8", 1),
  line(spanB, "#3a94e8", 2.5),
  line(spanA, "#9acd32", 2.5, {
    fill: { target: "-1", above: hatch("#3a94e8"), below: hatch("#cccc66") }
  }),
  {
    type: "bar", grouped: false, barThickness: 3, yAxisID: "yVol",
    data: volumes.map((v, i) => ({ x: i, y: v })),
    backgroundColor: volumes.map((_, i) => volColors[volumeState[i]])
  }
];

const priceNotes = [
  { t: "EURUSD,Daily  1.3458 1.3485 1.3458 1.3473", x: 13, y: 12, c: BLUE, f: "9.4px " + ARIAL },
  { t: "Главный дневной тренд", x: 312, y: 24, c: BLUE, f: "11px " + WIDE, rot: 14, align: "right" },
  { t: "200 дневной мувинг, экстремум 4 - ключевые сопротивление", x: 436, y: 30, c: "#00ff00", f: "15.6px " + ARIAL },
  { t: "Цена продавила 3й экстремум", x: 907, y: 54, c: "#ffff00", f: "13px " + ARIAL },
  { t: "RSI рост, стохастик перекупленность, машенька - рост", x: 834, y: 70, c: "#00ff00", f: "13px " + ARIAL },
  { t: "50 мувинг экспотенциал вверх, 100,200,300 нейтрален", x: 813, y: 89, c: "#ffff00", f: "13px " + ARIAL },
  { t: "5, 8, 13 мувинги круто вверх, расходятся - бычий тренд", x: 817, y: 107, c: "#ffff00", f: "13px " + ARIAL },
  { t: "область критических сопротивлений/поддержек", x: 869, y: 131, c: "#a52a2a", f: "15.5px " + ARIAL },
  { t: "Цель по ГЭПу", x: 1108, y: 146, c: "#ff00ff", f: "13px " + ARIAL },
  { t: "Граница быков и медведей, 300 мувинг - 2 я цель", x: 987, y: 173, c: "#ff00ff", f: "13px " + ARIAL },
  { t: "Экстремум 4", x: 1000, y: 190, c: "#ffff00", f: "12.7px " + ARIAL },
  { t: "Экстремум 3 -  1 я цель", x: 998, y: 208, c: "#ffff00", f: "15.6px " + ARIAL },
  { t: "THV V 4", x: 1217, y: 18, c: "#555555", f: "bold 20px " + ARIAL },
  { t: "Moving Average", x: 1222, y: 13, c: BLUE, f: "9.5px " + ARIAL },
  { t: "x", x: 1300, y: 13, c: BLUE, f: "bold 9.5px " + ARIAL },
  { t: "Analysis Chart", x: 1221, y: 37, c: "#666666", f: "12px " + ARIAL },
  { t: "EURUSD", x: 1233, y: 63, c: "#6e6e6e", f: "17px " + ARIAL },
  { t: "1440 M", x: 1233, y: 81, c: "#6e6e6e", f: "18px " + ARIAL },
  { t: "месячная поддержка", x: 9, y: 312, c: "#1e78d8", f: "11px " + WIDE },
  { t: "недельная поддержка", x: 9, y: 327, c: "#1e78d8", f: "10.8px " + WIDE },
  { t: "месячная поддержка", x: 10, y: 353, c: "#1e78d8", f: "10.5px " + WIDE, rot: -3 },
  { t: "Значимая поддержка", x: 11, y: 384, c: "#1e90ff", f: "8px " + WIDE, bg: "#000" },
  { t: "2", x: 1192, y: 287, c: "#ffff00", f: "16px " + ARIAL },
  { t: "weak", x: 1236, y: 287, c: "#d2880a", f: "13px " + ARIAL },
  { t: "1", x: 1197, y: 311, c: "#b4b414", f: "16px " + ARIAL },
  { t: "UP", x: 1246, y: 314, c: "#00ff00", f: "bold 15px " + ARIAL },
  { t: "27%", x: 1214, y: 346, c: "#dddddd", f: "13px " + ARIAL },
  { t: "DOWN", x: 1248, y: 346, c: "#dd0000", f: "13px " + ARIAL },
  { t: "73%", x: 1214, y: 366, c: "#dddddd", f: "13px " + ARIAL },
  { t: "UP", x: 1272, y: 366, c: "#00cc00", f: "13px " + ARIAL }
];
const priceTags = [{ value: gapTarget, bg: "#ff00ff" }, { value: currentPrice, bg: "#3399ff" }, { value: keySupport, bg: "#00ffff" }];

pane(3, 407, { min: 1.25644, max: 1.43389, ticks: priceTicks }, priceDatasets, priceNotes, priceTags, false,
  { yVol: { display: false, min: 0, max: 407 } });

// === Stochastic pane ===
const axisNote = (t, y) => ({ t, x: 1314, y, c: BLUE, f: "9.5px " + ARIAL });
pane(412, 56, { min: 0, max: 100, ticks: stoLevels, gridLines: true }, [
  line(stoCheck, "#00ff00", 2),
  line(stoAverage, "#ff0000", 3),
  line(stoMain, "#ffff00", 1),
  line(stoSignal, "#ff8c00", 1),
  line(stoSlow, "#20b2aa", 1),
  line(stoTrendOne, "#9acd32", 1),
  line(stoTrendTwo, "#9acd32", 1)
], [
  { t: "Sto(5,3,3) 84.7826 84.0045", x: 13, y: 422, c: BLUE, f: "9.3px " + ARIAL },
  { t: "www.cobraforex.com", x: 134, y: 456, c: "#555555", f: "11.5px " + ARIAL },
  axisNote("100", 418), axisNote("80", 423), axisNote("60", 433), axisNote("50", 441),
  axisNote("40", 446), axisNote("20", 455), axisNote("0", 462)
]);

// === MACD pane ===
const macdGapTop = -0.00112;
pane(471, 51, { min: -0.00692, max: 0.0031, ticks: [] , gridLines: true }, [
  line(macdCheck, "#00ff00", 2),
  line(macdYellow, "#ffff00", 2),
  line(macdBlue, BLUE, 1.5),
  line(macdRed, "#ff0000", 1.5),
  {
    type: "bar", grouped: false, barThickness: 3,
    data: macdRising.map(([x, lo, hi]) => ({ x, y: [lo, hi] })),
    backgroundColor: "#ff0000"
  },
  line(macdTrendOne, "#9acd32", 1),
  line(macdTrendTwo, "#9acd32", 1),
  line(macdZero, "#ff2020", 1, { borderDash: [2, 6], borderDashOffset: 4 }),
  line(macdZero, "#00ff00", 1, { borderDash: [2, 6] }),
  {
    type: "bar", grouped: false, barThickness: 3,
    data: macdHist.map((v, i) => ({ x: i, y: [i < 19 ? macdGapTop : 0, v] })),
    backgroundColor: "#0a6e0a"
  }
], [
  { t: "MACD(12,26,9) 0.0097 0.00524  MACD(12,26,1) 0.00971 0.00971", x: 157, y: 480, c: BLUE, f: "9.5px " + ARIAL },
  axisNote("0.0031", 478), axisNote("0.00", 487), axisNote("-0.00692", 516)
]);

// === RSI pane, carries the time axis ===
pane(524, 73, { min: -1.6, max: 106, ticks: rsiMid, gridLines: true }, [
  line(rsiAverage, "#ff0000", 2.5),
  line(rsiMain, "#ffff00", 1),
  line(rsiOverbought, "#ff0000", 4),
  line(rsiOversold, "#7cfc00", 2),
  line(rsiOversold, "#228b22", 5),
  line(rsiSlow, "#4a5a5a", 1),
  line(flat(0, 120, rsiLevels[0]), "#1f9a1f", 1, { borderDash: [3, 5] }),
  line(flat(0, 120, rsiLevels[1]), "#d02020", 1, { borderDash: [1, 2] }),
  line(flat(0, 120, rsiLevels[2]), "#1f9a1f", 1, { borderDash: [3, 3] }),
  line(flat(0, 120, rsiLevels[3]), "#d02020", 1, { borderDash: [3, 3] })
], [
  { t: "THV RSI_v2  (D1, 5, Close, 85, 15.79.0000 60.0000 40.0000 21.0000  ..  THV RSI_v2  (D1, 3, Close, 85, 15.79.0000 60.0000 40.0000 21.0000  ..  THV RSI_v2", x: 22, y: 534, c: BLUE, f: "9.6px " + ARIAL },
  { t: "0000 60.0000 40.0000 21.0000", x: 850, y: 534, c: BLUE, f: "9.2px " + ARIAL },
  axisNote("100", 532), axisNote("50", 552), axisNote("0", 573)
], null, true);

// === Tabs ===
const tabs = document.getElementById("tabs");
tabs.appendChild(document.createElement("b"));
tabNames.forEach((name, i) => {
  const s = document.createElement("span");
  s.textContent = name;
  s.style.left = tabLefts[i] + "px";
  if (i === 1) s.style.color = "#000";
  tabs.appendChild(s);
  if (i > 1 && i < 17) {
    const sep = document.createElement("i");
    sep.style.left = (tabLefts[i] - 8) + "px";
    tabs.appendChild(sep);
  }
});
</script>
</body>
</html>
